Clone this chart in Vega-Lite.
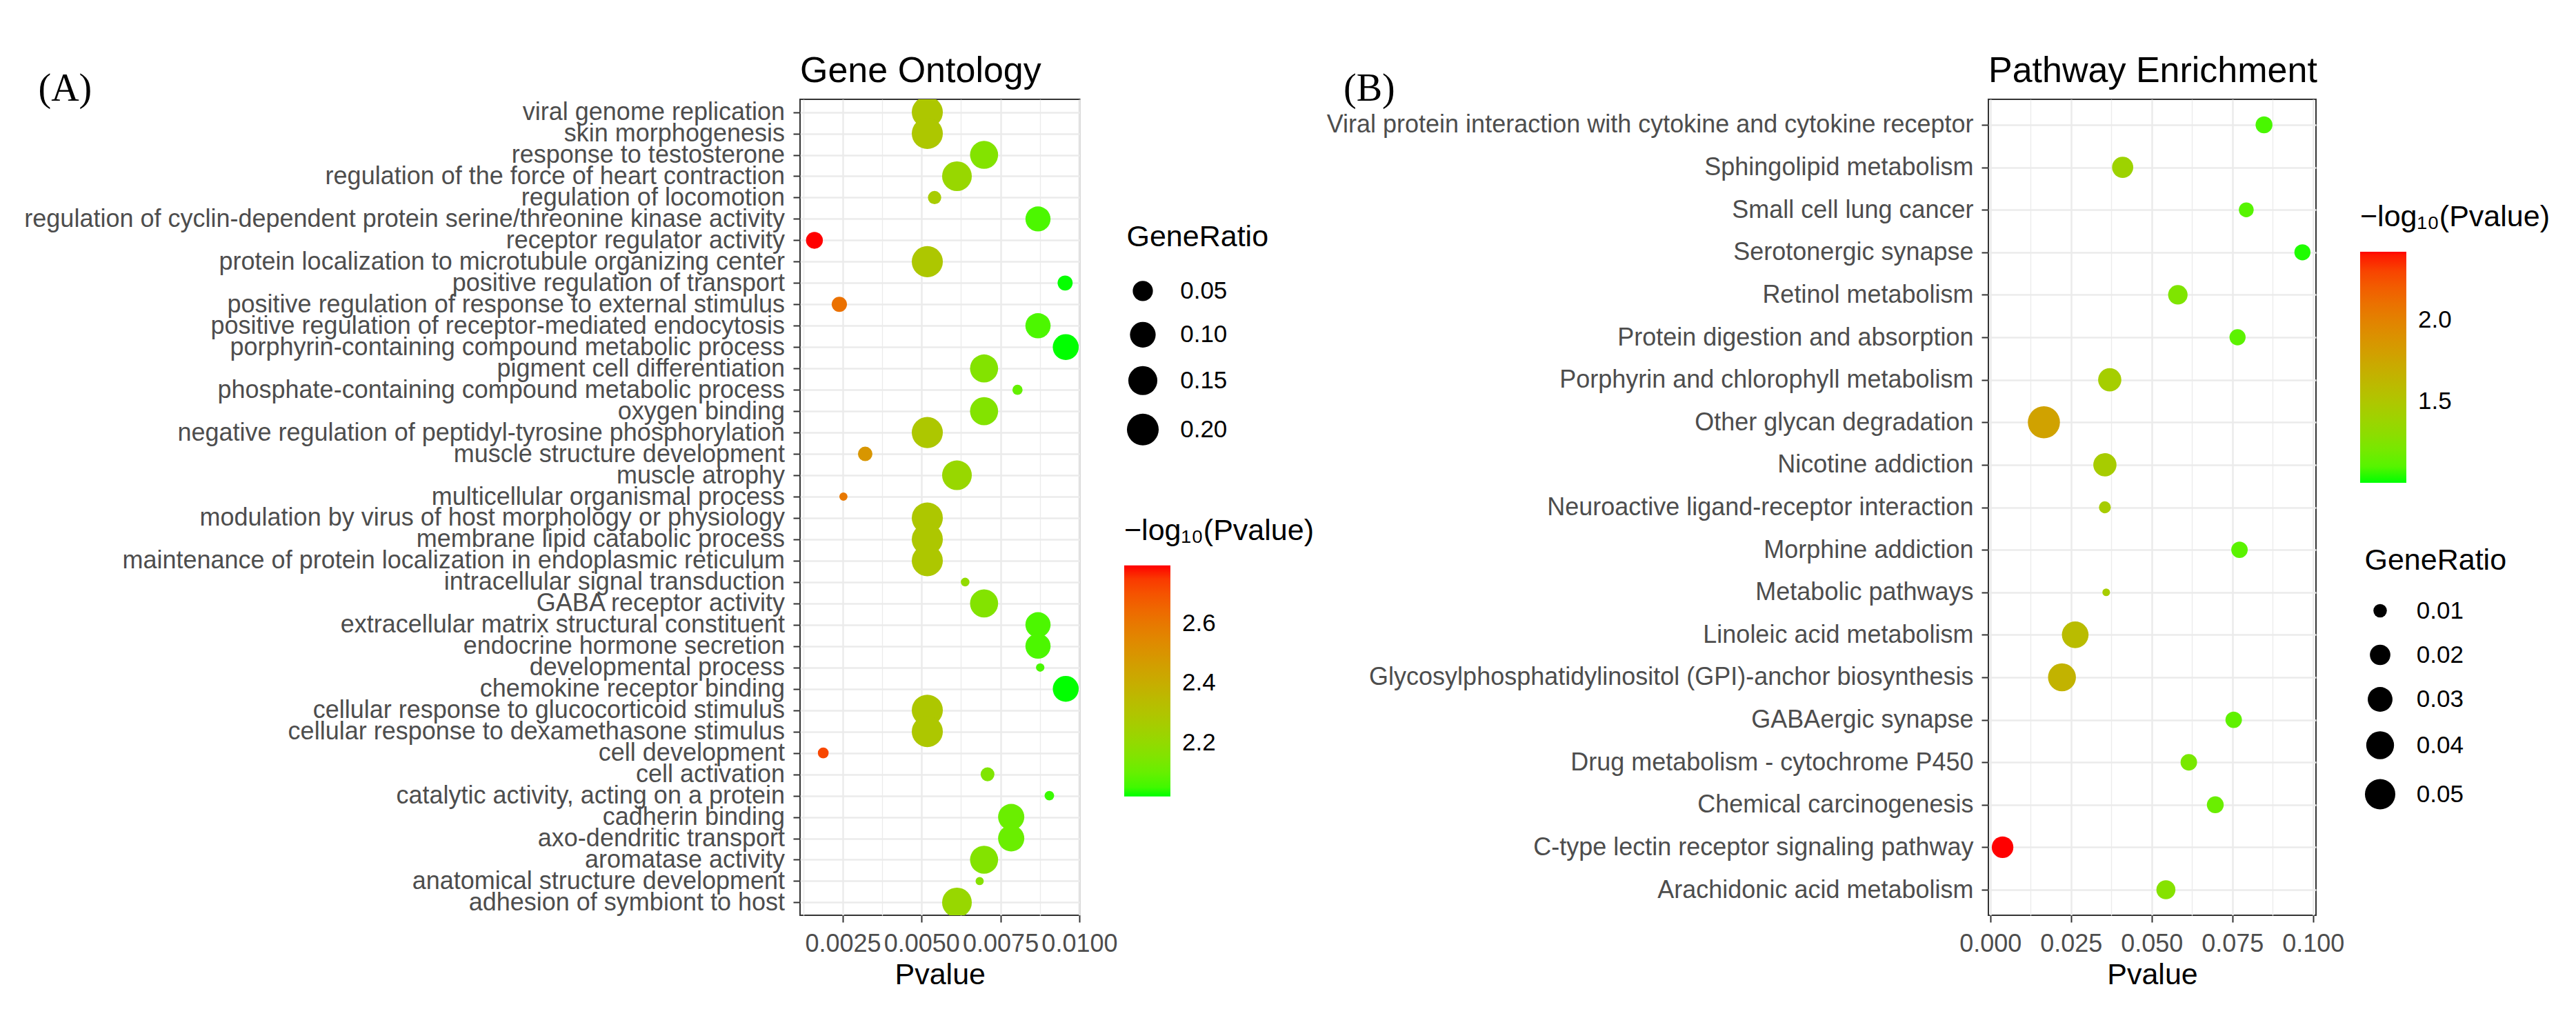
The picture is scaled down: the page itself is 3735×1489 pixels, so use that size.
{
  "$schema": "https://vega.github.io/schema/vega-lite/v6.json",
  "autosize": {"type": "none"},
  "padding": {"left": 1160, "top": 144, "right": 2575, "bottom": 1345},
  "background": "#ffffff",
  "datasets": {
    "go": [
      {"term": "viral genome replication", "pvalue": 0.00518, "neglog10p": 2.2857, "generatio": 0.187},
      {"term": "skin morphogenesis", "pvalue": 0.00518, "neglog10p": 2.2857, "generatio": 0.187},
      {"term": "response to testosterone", "pvalue": 0.00698, "neglog10p": 2.1561, "generatio": 0.135},
      {"term": "regulation of the force of heart contraction", "pvalue": 0.00612, "neglog10p": 2.2132, "generatio": 0.162},
      {"term": "regulation of locomotion", "pvalue": 0.00541, "neglog10p": 2.2668, "generatio": 0.0213},
      {"term": "regulation of cyclin-dependent protein serine/threonine kinase activity", "pvalue": 0.00869, "neglog10p": 2.061, "generatio": 0.094},
      {"term": "receptor regulator activity", "pvalue": 0.0016, "neglog10p": 2.7959, "generatio": 0.0331},
      {"term": "protein localization to microtubule organizing center", "pvalue": 0.00518, "neglog10p": 2.2857, "generatio": 0.187},
      {"term": "positive regulation of transport", "pvalue": 0.00955, "neglog10p": 2.02, "generatio": 0.0263},
      {"term": "positive regulation of response to external stimulus", "pvalue": 0.00239, "neglog10p": 2.6216, "generatio": 0.0269},
      {"term": "positive regulation of receptor-mediated endocytosis", "pvalue": 0.00869, "neglog10p": 2.061, "generatio": 0.095},
      {"term": "porphyrin-containing compound metabolic process", "pvalue": 0.00957, "neglog10p": 2.0191, "generatio": 0.1035},
      {"term": "pigment cell differentiation", "pvalue": 0.00698, "neglog10p": 2.1561, "generatio": 0.135},
      {"term": "phosphate-containing compound metabolic process", "pvalue": 0.00804, "neglog10p": 2.0947, "generatio": 0.0147},
      {"term": "oxygen binding", "pvalue": 0.00698, "neglog10p": 2.1561, "generatio": 0.135},
      {"term": "negative regulation of peptidyl-tyrosine phosphorylation", "pvalue": 0.00518, "neglog10p": 2.2857, "generatio": 0.187},
      {"term": "muscle structure development", "pvalue": 0.00321, "neglog10p": 2.4935, "generatio": 0.0246},
      {"term": "muscle atrophy", "pvalue": 0.00612, "neglog10p": 2.2132, "generatio": 0.162},
      {"term": "multicellular organismal process", "pvalue": 0.00252, "neglog10p": 2.5986, "generatio": 0.0125},
      {"term": "modulation by virus of host morphology or physiology", "pvalue": 0.00518, "neglog10p": 2.2857, "generatio": 0.187},
      {"term": "membrane lipid catabolic process", "pvalue": 0.00518, "neglog10p": 2.2857, "generatio": 0.187},
      {"term": "maintenance of protein localization in endoplasmic reticulum", "pvalue": 0.00518, "neglog10p": 2.2857, "generatio": 0.187},
      {"term": "intracellular signal transduction", "pvalue": 0.00638, "neglog10p": 2.1952, "generatio": 0.013},
      {"term": "GABA receptor activity", "pvalue": 0.00698, "neglog10p": 2.1561, "generatio": 0.135},
      {"term": "extracellular matrix structural constituent", "pvalue": 0.00869, "neglog10p": 2.061, "generatio": 0.095},
      {"term": "endocrine hormone secretion", "pvalue": 0.00869, "neglog10p": 2.061, "generatio": 0.095},
      {"term": "developmental process", "pvalue": 0.00876, "neglog10p": 2.0575, "generatio": 0.0128},
      {"term": "chemokine receptor binding", "pvalue": 0.00957, "neglog10p": 2.0191, "generatio": 0.1035},
      {"term": "cellular response to glucocorticoid stimulus", "pvalue": 0.00518, "neglog10p": 2.2857, "generatio": 0.187},
      {"term": "cellular response to dexamethasone stimulus", "pvalue": 0.00518, "neglog10p": 2.2857, "generatio": 0.187},
      {"term": "cell development", "pvalue": 0.00188, "neglog10p": 2.7258, "generatio": 0.0157},
      {"term": "cell activation", "pvalue": 0.00709, "neglog10p": 2.1494, "generatio": 0.0227},
      {"term": "catalytic activity, acting on a protein", "pvalue": 0.00905, "neglog10p": 2.0434, "generatio": 0.014},
      {"term": "cadherin binding", "pvalue": 0.00784, "neglog10p": 2.1057, "generatio": 0.1077},
      {"term": "axo-dendritic transport", "pvalue": 0.00784, "neglog10p": 2.1057, "generatio": 0.1077},
      {"term": "aromatase activity", "pvalue": 0.00698, "neglog10p": 2.1561, "generatio": 0.135},
      {"term": "anatomical structure development", "pvalue": 0.00684, "neglog10p": 2.1649, "generatio": 0.0125},
      {"term": "adhesion of symbiont to host", "pvalue": 0.00612, "neglog10p": 2.2132, "generatio": 0.162}
    ],
    "kegg": [
      {"term": "Viral protein interaction with cytokine and cytokine receptor", "pvalue": 0.0848, "neglog10p": 1.0716, "generatio": 0.0144},
      {"term": "Sphingolipid metabolism", "pvalue": 0.041, "neglog10p": 1.3872, "generatio": 0.0215},
      {"term": "Small cell lung cancer", "pvalue": 0.0793, "neglog10p": 1.1007, "generatio": 0.0116},
      {"term": "Serotonergic synapse", "pvalue": 0.0967, "neglog10p": 1.0146, "generatio": 0.0133},
      {"term": "Retinol metabolism", "pvalue": 0.0581, "neglog10p": 1.2358, "generatio": 0.0183},
      {"term": "Protein digestion and absorption", "pvalue": 0.0766, "neglog10p": 1.1158, "generatio": 0.0133},
      {"term": "Porphyrin and chlorophyll metabolism", "pvalue": 0.037, "neglog10p": 1.4318, "generatio": 0.0262},
      {"term": "Other glycan degradation", "pvalue": 0.0166, "neglog10p": 1.7799, "generatio": 0.0566},
      {"term": "Nicotine addiction", "pvalue": 0.0355, "neglog10p": 1.4498, "generatio": 0.0262},
      {"term": "Neuroactive ligand-receptor interaction", "pvalue": 0.0355, "neglog10p": 1.4498, "generatio": 0.0085},
      {"term": "Morphine addiction", "pvalue": 0.0772, "neglog10p": 1.1124, "generatio": 0.0138},
      {"term": "Metabolic pathways", "pvalue": 0.0359, "neglog10p": 1.4449, "generatio": 0.00665},
      {"term": "Linoleic acid metabolism", "pvalue": 0.0263, "neglog10p": 1.58, "generatio": 0.0361},
      {"term": "Glycosylphosphatidylinositol (GPI)-anchor biosynthesis", "pvalue": 0.0222, "neglog10p": 1.6536, "generatio": 0.0404},
      {"term": "GABAergic synapse", "pvalue": 0.0754, "neglog10p": 1.1226, "generatio": 0.0138},
      {"term": "Drug metabolism - cytochrome P450", "pvalue": 0.0615, "neglog10p": 1.2111, "generatio": 0.0138},
      {"term": "Chemical carcinogenesis", "pvalue": 0.0697, "neglog10p": 1.1568, "generatio": 0.0144},
      {"term": "C-type lectin receptor signaling pathway", "pvalue": 0.0038, "neglog10p": 2.4202, "generatio": 0.0224},
      {"term": "Arachidonic acid metabolism", "pvalue": 0.0544, "neglog10p": 1.2644, "generatio": 0.0176}
    ]
  },
  "hconcat": [
    {
      "width": 405.5,
      "height": 1183,
      "data": {"name": "go"},
      "title": {"text": "Gene Ontology", "anchor": "start", "frame": "group", "fontSize": 52, "fontWeight": "normal", "font": "Liberation Sans", "baseline": "alphabetic", "offset": -70.6, "color": "#000000"},
      "mark": {"type": "circle", "opacity": 1, "clip": true, "strokeWidth": 0},
      "encoding": {
        "x": {
          "field": "pvalue", "type": "quantitative",
          "scale": {"domain": [0.001144, 0.010013], "nice": false, "zero": false},
          "axis": {
            "title": "Pvalue", "titlePadding": 6,
            "values": [0.00125, 0.0025, 0.00375, 0.005, 0.00625, 0.0075, 0.00875, 0.01],
            "labelExpr": "indexof([0.0025,0.005,0.0075,0.01], datum.value) >= 0 ? format(datum.value, '.4f') : ''",
            "labelPadding": 14, "labelFlush": false, "labelOverlap": false,
            "gridWidth": {"condition": {"test": "indexof([0.0025,0.005,0.0075,0.01], datum.value) >= 0", "value": 2.5}, "value": 1.3},
            "tickOpacity": {"condition": {"test": "indexof([0.0025,0.005,0.0075,0.01], datum.value) >= 0", "value": 1}, "value": 0}
          }
        },
        "y": {
          "field": "term", "type": "nominal", "sort": null,
          "scale": {"type": "point", "padding": 0.6},
          "axis": {
            "title": "(A)", "titleFont": "Liberation Serif", "titleFontSize": 56, "titleFontWeight": "normal", "titleColor": "#000000",
            "titleAngle": 0, "titleAlign": "left", "titleBaseline": "alphabetic", "titleX": -1105, "titleY": 1,
            "labelLimit": 3000, "labelPadding": 12.5, "gridWidth": 2.5
          }
        },
        "color": {
          "field": "neglog10p", "type": "quantitative",
          "scale": {"domain": [2.019, 2.796], "range": ["#00ff00", "#ff0000"], "interpolate": "lab", "zero": false, "nice": false},
          "legend": {
            "title": "−log₁₀(Pvalue)", "orient": "none", "legendX": 470, "legendY": 604.7, "direction": "vertical",
            "values": [2.2, 2.4, 2.6], "format": ".1f", "gradientLength": 335, "gradientThickness": 67,
            "gradientStrokeWidth": 0, "labelOffset": 17, "titlePadding": 28
          }
        },
        "size": {
          "field": "generatio", "type": "quantitative",
          "scale": {"type": "linear", "zero": false, "nice": false,
            "domain": [0.012, 0.015, 0.02, 0.03, 0.05, 0.1, 0.15, 0.2],
            "range": [122.7, 227, 346.4, 551.5, 855.3, 1385.4, 1772, 2123.7]},
          "legend": {
            "title": "GeneRatio", "orient": "none", "legendX": 473.5, "legendY": 179.3, "direction": "vertical",
            "values": [0.05, 0.1, 0.15, 0.2], "format": ".2f", "symbolType": "circle",
            "symbolFillColor": "#000000", "symbolStrokeWidth": 0, "symbolOpacity": 1,
            "labelOffset": 30.7, "rowPadding": 26, "titlePadding": 38,
            "encode": {"symbols": {"update": {"fill": {"value": "#000000"}, "stroke": {"value": "transparent"}, "opacity": {"value": 1}}}}
          }
        }
      }
    },
    {
      "width": 475,
      "height": 1183,
      "data": {"name": "kegg"},
      "title": {"text": "Pathway Enrichment", "anchor": "start", "frame": "group", "fontSize": 52, "fontWeight": "normal", "font": "Liberation Sans", "baseline": "alphabetic", "offset": -70.6, "color": "#000000"},
      "mark": {"type": "circle", "opacity": 1, "clip": true, "strokeWidth": 0},
      "encoding": {
        "x": {
          "field": "pvalue", "type": "quantitative",
          "scale": {"domain": [-0.0006, 0.1009], "nice": false, "zero": false},
          "axis": {
            "title": "Pvalue", "titlePadding": 6,
            "values": [0, 0.0125, 0.025, 0.0375, 0.05, 0.0625, 0.075, 0.0875, 0.1],
            "labelExpr": "indexof([0,0.025,0.05,0.075,0.1], datum.value) >= 0 ? format(datum.value, '.3f') : ''",
            "labelPadding": 14, "labelFlush": false, "labelOverlap": false,
            "gridWidth": {"condition": {"test": "indexof([0,0.025,0.05,0.075,0.1], datum.value) >= 0", "value": 2.5}, "value": 1.3},
            "tickOpacity": {"condition": {"test": "indexof([0,0.025,0.05,0.075,0.1], datum.value) >= 0", "value": 1}, "value": 0}
          }
        },
        "y": {
          "field": "term", "type": "nominal", "sort": null,
          "scale": {"type": "point", "padding": 0.6},
          "axis": {
            "title": "(B)", "titleFont": "Liberation Serif", "titleFontSize": 56, "titleFontWeight": "normal", "titleColor": "#000000",
            "titleAngle": 0, "titleAlign": "left", "titleBaseline": "alphabetic", "titleX": -935.5, "titleY": 1,
            "labelLimit": 3000, "labelPadding": 12, "gridWidth": 2.5
          }
        },
        "color": {
          "field": "neglog10p", "type": "quantitative",
          "scale": {"domain": [1.0, 2.42], "range": ["#00ff00", "#ff0000"], "interpolate": "lab", "zero": false, "nice": false},
          "legend": {
            "title": "−log₁₀(Pvalue)", "orient": "none", "legendX": 539, "legendY": 150, "direction": "vertical",
            "values": [1.5, 2.0], "format": ".1f", "gradientLength": 335, "gradientThickness": 67,
            "gradientStrokeWidth": 0, "labelOffset": 17, "titlePadding": 28
          }
        },
        "size": {
          "field": "generatio", "type": "quantitative",
          "scale": {"type": "linear", "zero": false, "nice": false,
            "domain": [0.0065, 0.0075, 0.0085, 0.01, 0.02, 0.03, 0.04, 0.05, 0.0566],
            "range": [103.9, 227, 298.6, 380, 881, 1288, 1626, 1940, 2165]},
          "legend": {
            "title": "GeneRatio", "orient": "none", "legendX": 545.5, "legendY": 648, "direction": "vertical",
            "values": [0.01, 0.02, 0.03, 0.04, 0.05], "format": ".2f", "symbolType": "circle",
            "symbolFillColor": "#000000", "symbolStrokeWidth": 0, "symbolOpacity": 1,
            "labelOffset": 30.3, "rowPadding": 28, "titlePadding": 33,
            "encode": {"symbols": {"update": {"fill": {"value": "#000000"}, "stroke": {"value": "transparent"}, "opacity": {"value": 1}}}}
          }
        }
      }
    }
  ],
  "spacing": 1317,
  "bounds": "flush",
  "resolve": {
    "scale": {"x": "independent", "y": "independent", "color": "independent", "size": "independent"},
    "legend": {"color": "independent", "size": "independent"},
    "axis": {"x": "independent", "y": "independent"}
  },
  "config": {
    "font": "Liberation Sans",
    "view": {"stroke": "#333333", "strokeWidth": 2},
    "axis": {
      "domain": false, "tickColor": "#333333", "tickWidth": 2, "tickSize": 10, "grid": true, "gridColor": "#ebebeb",
      "labelColor": "#4d4d4d", "labelFont": "Liberation Sans", "labelFontSize": 36,
      "titleFont": "Liberation Sans", "titleFontSize": 43, "titleFontWeight": "normal", "titleColor": "#000000"
    },
    "legend": {
      "titleFont": "Liberation Sans", "titleFontSize": 43, "titleFontWeight": "normal", "titleColor": "#000000",
      "labelFont": "Liberation Sans", "labelFontSize": 35, "labelColor": "#000000", "padding": 0,
      "titleLimit": 2000, "labelLimit": 2000
    }
  }
}
